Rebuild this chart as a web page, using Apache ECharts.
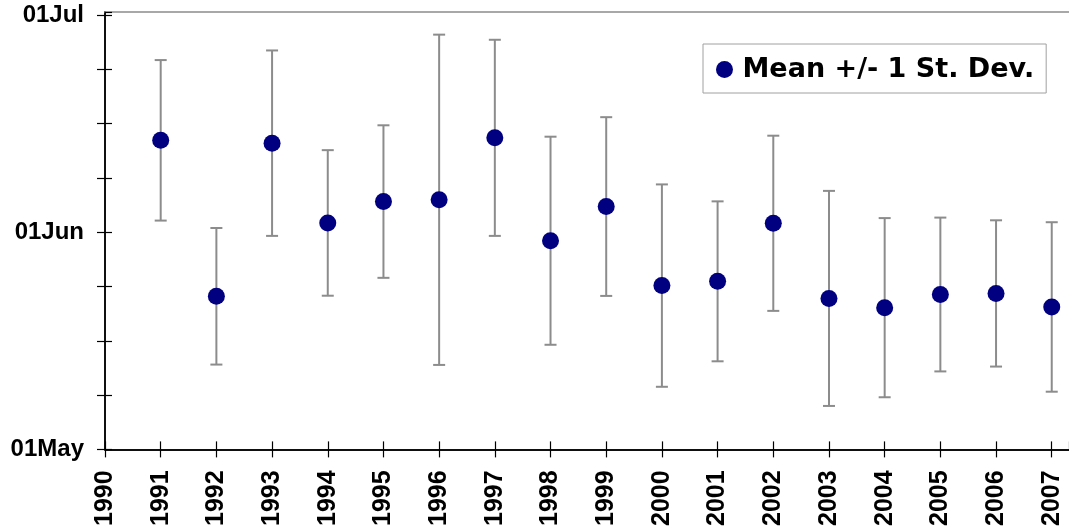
<!DOCTYPE html>
<html>
<head>
<meta charset="utf-8">
<script src="https://cdn.jsdelivr.net/npm/echarts@6/dist/echarts.min.js"></script>
<style>html,body{margin:0;padding:0;background:#fff;}#c{width:1069px;height:529px;}</style>
</head>
<body>
<div id="c"></div>
<script>
// Years
var years = [1991,1992,1993,1994,1995,1996,1997,1998,1999,2000,2001,2002,2003,2004,2005,2006,2007];
// Mean date, in days after 01 May (axis scale: 01May=0, 01Jun=30.5, 01Jul=61)
var meanDays = [43.4,21.5,43.0,31.8,34.8,35.05,43.75,29.3,34.1,23.0,23.6,31.75,21.2,19.9,21.75,21.9,20.0];
// One standard deviation, days
var sdDays = [11.27,9.59,13.02,10.22,10.71,23.19,13.77,14.61,12.55,14.21,11.23,12.3,15.1,12.58,10.8,10.27,11.9];
// Axis ticks
var xTickYears = [1990,1991,1992,1993,1994,1995,1996,1997,1998,1999,2000,2001,2002,2003,2004,2005,2006,2007];
var yLabelValues = [0, 30.5, 61];
var yLabelTexts = ['01May', '01Jun', '01Jul'];
var yMinorTicks = [0, 7.625, 15.25, 22.875, 30.5, 38.125, 45.75, 53.375, 61];

var seriesName = 'Mean +/- 1 St. Dev.';
var FONT = '"Liberation Sans", Arial, sans-serif';

var pts = years.map(function (y, i) { return [y, meanDays[i]]; });
var bars = years.map(function (y, i) { return [y, meanDays[i] - sdDays[i], meanDays[i] + sdDays[i]]; });

var XMIN = 1990, XMAX = 2007.31, YMIN = 0, YMAX = 61.42;

var chart = echarts.init(document.getElementById('c'));
chart.setOption({
  animation: false,
  backgroundColor: '#ffffff',
  grid: { left: 105, top: 12, right: 0, bottom: 78 },
  legend: {
    data: [seriesName],
    left: 703, top: 44,
    padding: [12, 12, 10, 13],
    borderColor: '#a0a0a0', borderWidth: 1,
    itemWidth: 26, itemHeight: 17,
    textStyle: { fontFamily: '"DejaVu Sans", sans-serif', fontWeight: 'bold', fontSize: 27, color: '#000' }
  },
  xAxis: [
    {
      type: 'value', min: XMIN, max: XMAX, interval: 1, position: 'bottom',
      axisLine: { show: true, onZero: false, lineStyle: { color: '#000', width: 1.5 } },
      axisTick: { show: true, length: 8, inside: false, customValues: xTickYears, lineStyle: { color: '#000', width: 1.2 } },
      axisLabel: { customValues: xTickYears, rotate: 90, margin: 21, fontFamily: FONT, fontWeight: 'bold', fontSize: 25, color: '#000', formatter: function (v) { return String(v); } },
      splitLine: { show: false }
    },
    {
      type: 'value', min: XMIN, max: XMAX, interval: 1, position: 'bottom', offset: 0,
      axisLine: { show: true, onZero: false, lineStyle: { color: '#000', width: 1.5 } },
      axisTick: { show: true, length: 8, inside: true, lineStyle: { color: '#000', width: 1.2 } },
      axisLabel: { show: false },
      splitLine: { show: false }
    },
    {
      type: 'value', min: XMIN, max: XMAX, interval: 1, position: 'top',
      axisLine: { show: true, onZero: false, lineStyle: { color: '#8c8c8c', width: 1.5 } },
      axisTick: { show: false },
      axisLabel: { show: false },
      splitLine: { show: false }
    }
  ],
  yAxis: [
    {
      type: 'value', min: YMIN, max: YMAX, interval: 7.625, position: 'left',
      axisLine: { show: true, onZero: false, lineStyle: { color: '#000', width: 1.5 } },
      axisTick: { show: true, length: 8, inside: false, customValues: yMinorTicks, lineStyle: { color: '#000', width: 1.2 } },
      axisLabel: {
        customValues: yLabelValues, margin: 21, fontFamily: FONT, fontWeight: 'bold', fontSize: 24, color: '#000',
        formatter: function (v) { var k = yLabelValues.indexOf(v); return k >= 0 ? yLabelTexts[k] : ''; }
      },
      splitLine: { show: false }
    },
    {
      type: 'value', min: YMIN, max: YMAX, interval: 7.625, position: 'left', offset: 0,
      axisLine: { show: true, onZero: false, lineStyle: { color: '#000', width: 1.5 } },
      axisTick: { show: true, length: 7, inside: true, lineStyle: { color: '#000', width: 1.2 } },
      axisLabel: { show: false },
      splitLine: { show: false }
    }
  ],
  series: [
    {
      type: 'custom', name: 'errorbars', xAxisIndex: 0, yAxisIndex: 0, z: 1,
      data: bars,
      renderItem: function (params, api) {
        var x = api.value(0);
        var lo = api.coord([x, api.value(1)]);
        var hi = api.coord([x, api.value(2)]);
        var hw = 6;
        var st = { stroke: '#8c8c8c', lineWidth: 2 };
        return {
          type: 'group',
          children: [
            { type: 'line', shape: { x1: lo[0], y1: lo[1], x2: hi[0], y2: hi[1] }, style: st },
            { type: 'line', shape: { x1: lo[0] - hw, y1: lo[1], x2: lo[0] + hw, y2: lo[1] }, style: st },
            { type: 'line', shape: { x1: hi[0] - hw, y1: hi[1], x2: hi[0] + hw, y2: hi[1] }, style: st }
          ]
        };
      }
    },
    {
      type: 'scatter', name: seriesName, xAxisIndex: 0, yAxisIndex: 0, z: 3,
      data: pts, symbol: 'circle', symbolSize: 17,
      itemStyle: { color: '#000080', opacity: 1 }
    }
  ]
});
</script>
</body>
</html>
